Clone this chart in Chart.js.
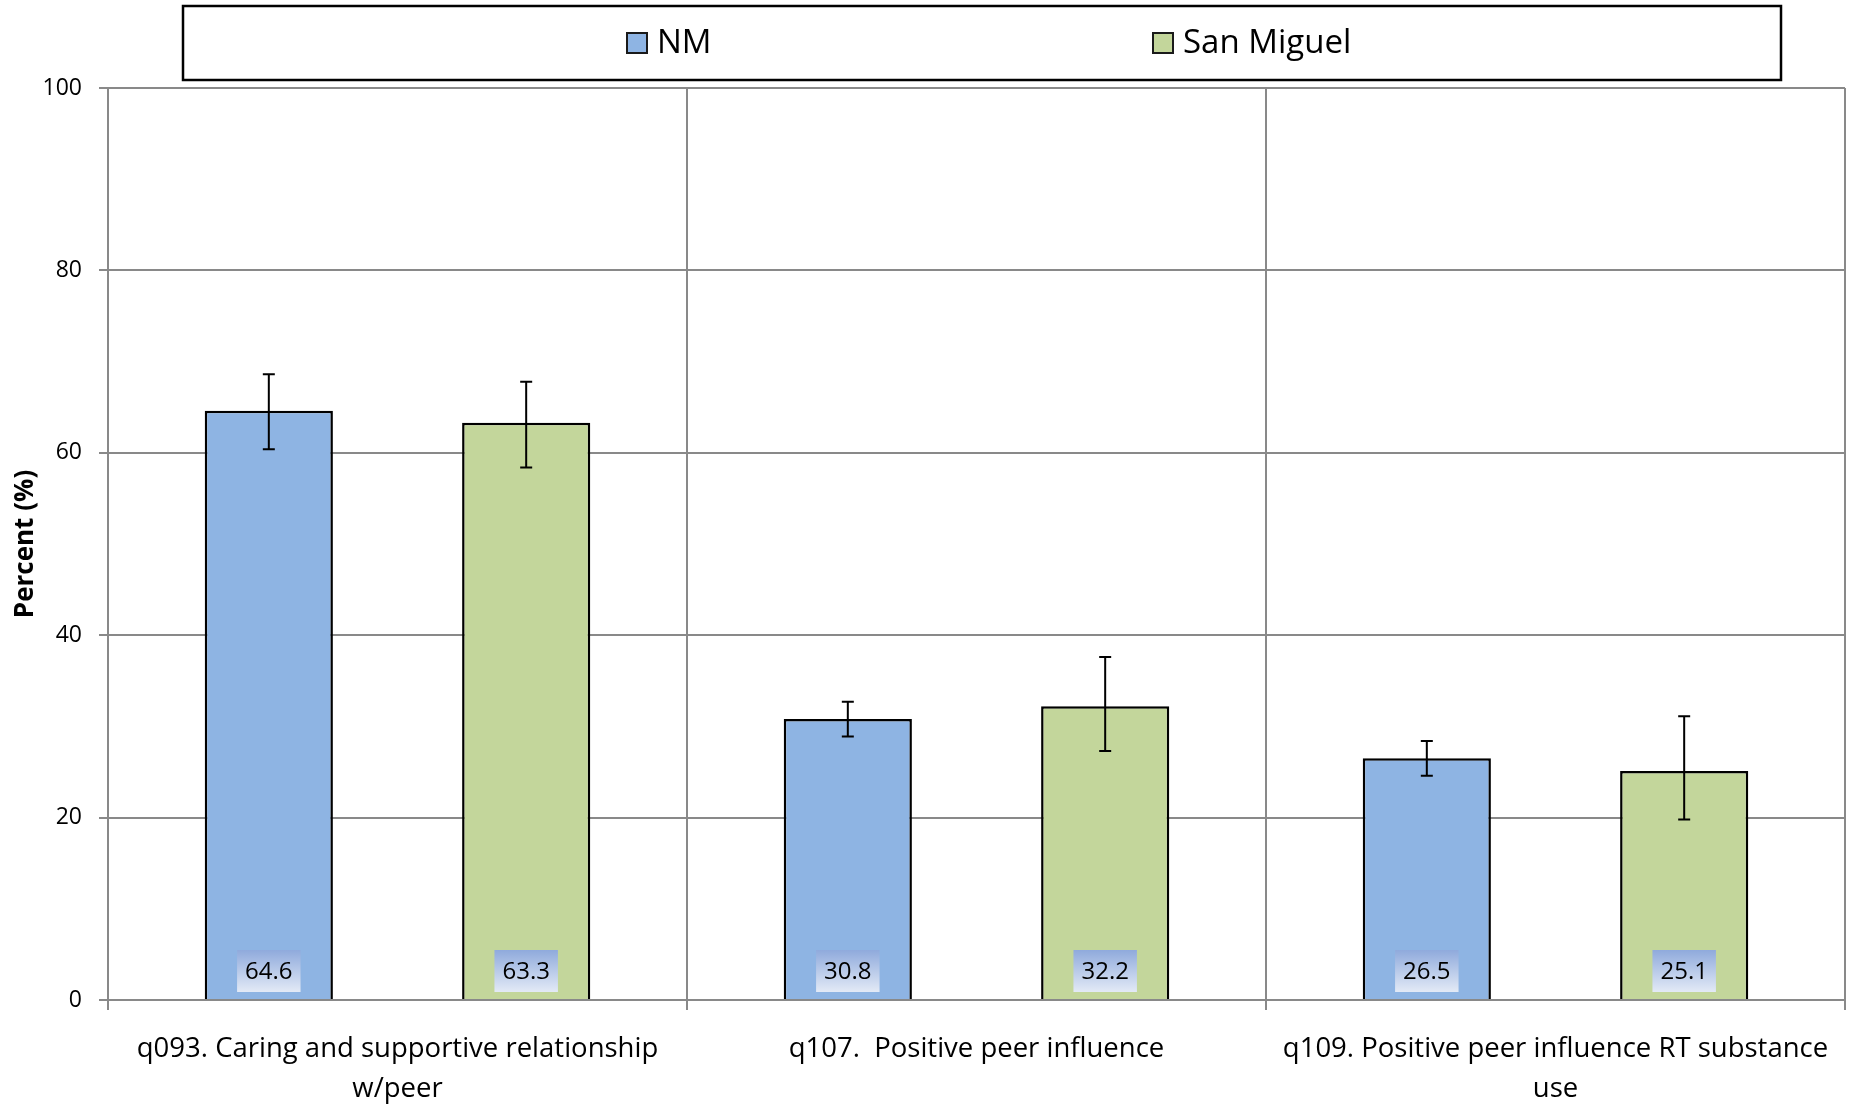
<!DOCTYPE html>
<html>
<head>
<meta charset="utf-8">
<script src="https://cdn.jsdelivr.net/npm/chart.js@4.4.1/dist/chart.umd.min.js"></script>
<style>
  html, body { margin: 0; padding: 0; background: #fff; }
  #wrap { width: 1855px; height: 1107px; }
</style>
</head>
<body>
<div id="wrap"><canvas id="chart" width="1855" height="1107"></canvas></div>
<script>
const categories = [
  ['q093. Caring and supportive relationship', 'w/peer'],
  ['q107.  Positive peer influence'],
  ['q109. Positive peer influence RT substance', 'use']
]
const seriesNames = ['NM', 'San Miguel']
const nmValues = [64.6, 30.8, 26.5]
const nmLow = [60.4, 28.9, 24.6]
const nmHigh = [68.6, 32.7, 28.4]
const smValues = [63.3, 32.2, 25.1]
const smLow = [58.4, 27.3, 19.8]
const smHigh = [67.8, 37.6, 31.1]
const yTicks = [0, 20, 40, 60, 80, 100]

const FONT = '"Open Sans", "Noto Sans", sans-serif'
const GRID = '#898989'
const barColors = ['#8EB4E3', '#C3D69B']
const errLow = [nmLow, smLow]
const errHigh = [nmHigh, smHigh]

// error bars + value boxes at bar bottoms
const barExtras = {
  id: 'barExtras',
  afterDatasetsDraw(chart) {
    const ctx = chart.ctx
    const y = chart.scales.y
    chart.data.datasets.forEach((ds, di) => {
      const meta = chart.getDatasetMeta(di)
      meta.data.forEach((bar, i) => {
        // error bar
        const top = y.getPixelForValue(errHigh[di][i])
        const bot = y.getPixelForValue(errLow[di][i])
        ctx.save()
        ctx.strokeStyle = '#000'
        ctx.lineWidth = 2
        ctx.beginPath()
        ctx.moveTo(bar.x, top); ctx.lineTo(bar.x, bot)
        ctx.moveTo(bar.x - 6, top); ctx.lineTo(bar.x + 6, top)
        ctx.moveTo(bar.x - 6, bot); ctx.lineTo(bar.x + 6, bot)
        ctx.stroke()

        // value label box
        const txt = ds.data[i].toFixed(1)
        ctx.font = '24px ' + FONT
        const w = ctx.measureText(txt).width + 16
        const h = 42
        const bx = bar.x - w / 2
        const by = bar.base - 7 - h
        const g = ctx.createLinearGradient(0, by, 0, by + h)
        g.addColorStop(0, '#8FAADC')
        g.addColorStop(1, '#E3EAF6')
        ctx.fillStyle = g
        ctx.fillRect(bx, by, w, h)
        ctx.fillStyle = '#000'
        ctx.textAlign = 'center'
        ctx.textBaseline = 'middle'
        ctx.fillText(txt, bar.x, by + h / 2 + 1)
        ctx.restore()
      })
    })
  }
}

// boxed legend at the top
const boxLegend = {
  id: 'boxLegend',
  afterDraw(chart) {
    const ctx = chart.ctx
    const left = 183, top = 6, right = 1781, bottom = 80
    const offsets = [444, 970]
    ctx.save()
    ctx.strokeStyle = '#000'
    ctx.lineWidth = 2.5
    ctx.strokeRect(left, top, right - left, bottom - top)
    const mid = (top + bottom) / 2
    chart.data.datasets.forEach((ds, i) => {
      const x = left + offsets[i]
      ctx.fillStyle = ds.backgroundColor
      ctx.fillRect(x, mid - 10, 20, 20)
      ctx.lineWidth = 2
      ctx.strokeStyle = '#1a1a1a'
      ctx.strokeRect(x, mid - 10, 20, 20)
      ctx.fillStyle = '#000'
      ctx.font = '33px ' + FONT
      ctx.textBaseline = 'middle'
      ctx.textAlign = 'left'
      ctx.fillText(ds.label, x + 30, mid + 1)
    })
    ctx.restore()
  }
}

new Chart(document.getElementById('chart'), {
  type: 'bar',
  data: {
    labels: categories,
    datasets: [
      {
        label: seriesNames[0],
        data: nmValues,
        backgroundColor: barColors[0],
        borderColor: '#000',
        borderWidth: 2.5
      },
      {
        label: seriesNames[1],
        data: smValues,
        backgroundColor: barColors[1],
        borderColor: '#000',
        borderWidth: 2.5
      }
    ]
  },
  options: {
    responsive: false,
    animation: false,
    categoryPercentage: 0.889,
    barPercentage: 0.498,
    layout: { padding: { top: 88, right: 10, left: 0, bottom: 0 } },
    plugins: {
      legend: { display: false },
      tooltip: { enabled: false }
    },
    scales: {
      x: {
        grid: { color: GRID, lineWidth: 2, offset: true, tickLength: 10 },
        border: { color: GRID, width: 2 },
        ticks: {
          color: '#000',
          padding: 19,
          maxRotation: 0,
          font: { family: FONT, size: 27.5, lineHeight: 1.45 }
        },
        afterFit(scale) { scale.height = 107 }
      },
      y: {
        min: 0,
        max: 100,
        afterBuildTicks(scale) { scale.ticks = yTicks.map(v => ({ value: v })) },
        grid: { color: GRID, lineWidth: 2, tickLength: 9 },
        border: { color: GRID, width: 2 },
        ticks: {
          color: '#000',
          padding: 17,
          font: { family: FONT, size: 23 }
        },
        title: {
          display: true,
          text: 'Percent (%)',
          color: '#000',
          padding: { top: 10, bottom: 0 },
          font: { family: FONT, size: 26, weight: 'bold' }
        },
        afterFit(scale) { scale.width = 108 }
      }
    }
  },
  plugins: [barExtras, boxLegend]
})
</script>
</body>
</html>
